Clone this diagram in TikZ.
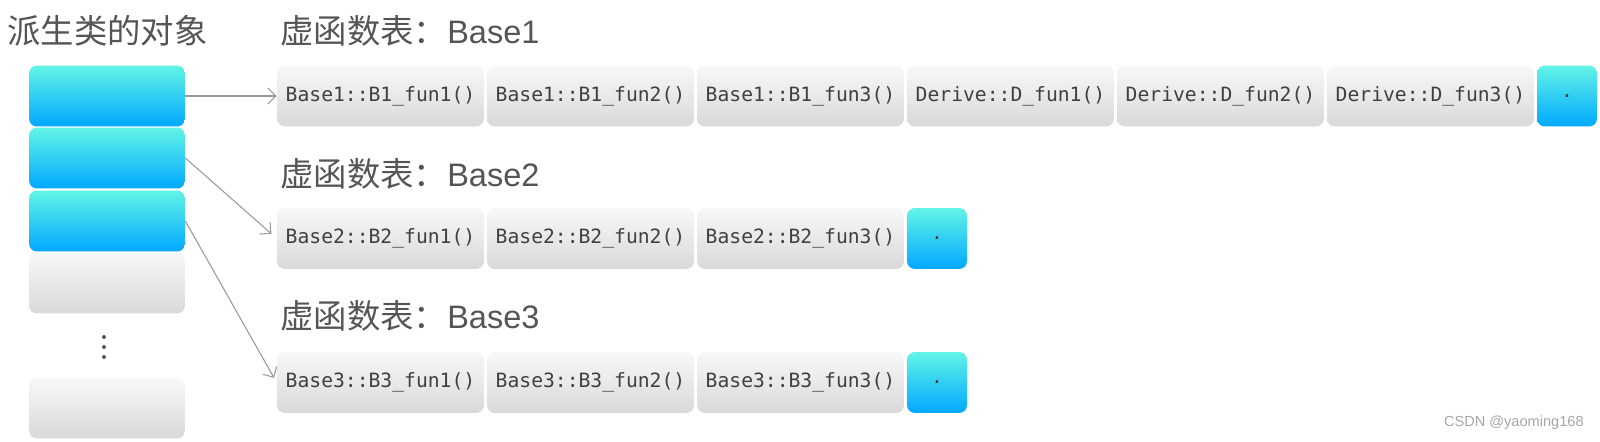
\documentclass[tikz,border=0pt]{standalone}
\usepackage{fontspec}
\setmonofont{DejaVu Sans Mono}
\setsansfont{Liberation Sans}
\newfontfamily\cjk{Noto Sans CJK SC}
\usetikzlibrary{arrows,arrows.meta,shapes,positioning}
\definecolor{cyanhaut}{HTML}{62F4E6}
\definecolor{bleubas}{HTML}{00A8FF}
\definecolor{grishaut}{HTML}{F8F8F8}
\definecolor{grisbas}{HTML}{D9D9D9}
\definecolor{texte}{HTML}{555555}
\definecolor{fleche}{HTML}{999999}

\begin{document}
\begin{tikzpicture}[x=0.02cm,y=-0.02cm,
  case/.style={rectangle,rounded corners=4.5pt,minimum width=3.12cm,minimum height=1.22cm,inner sep=0pt},
  pleine/.style={case,top color=cyanhaut,bottom color=bleubas},
  vide/.style={case,top color=grishaut,bottom color=grisbas},
  fct/.style={rectangle,rounded corners=4.5pt,minimum width=4.14cm,minimum height=1.22cm,inner sep=0pt,top color=grishaut,bottom color=grisbas,text=black!75,font=\ttfamily\fontsize{11.2}{13}\selectfont},
  fin/.style={fct,minimum width=1.2cm,top color=cyanhaut,bottom color=bleubas},
  titre/.style={anchor=west,inner sep=0pt,text=texte,font=\cjk\fontsize{19}{22}\selectfont},
  lien/.style={draw=fleche,line width=0.6pt,-{Straight Barb[length=4.5pt,width=9pt]}}]
\useasboundingbox (0,0) rectangle (1600,442);

% objet derive
\node (TD) at (7,31) [titre] {派生类的对象};
\node (D1) at (107,96) [pleine] {};
\node (D2) at (107,158) [pleine] {};
\node (D3) at (107,221) [pleine] {};
\node (D4) at (107,283) [vide] {};
\node (D5) at (107,408) [vide] {};
\fill[texte] (104,337) circle (2) (104,347) circle (2) (104,357) circle (2);

% table Base1
\node (T1) at (280,31) [titre] {虚函数表：{\sffamily\fontsize{18.5}{22}\selectfont Base1}};
\node (B1a) at (380.5,96) [fct] {Base1::B1\_fun1()};
\node (B1b) at (590.5,96) [fct] {Base1::B1\_fun2()};
\node (B1c) at (800.5,96) [fct] {Base1::B1\_fun3()};
\node (B1d) at (1010.5,96) [fct] {Derive::D\_fun1()};
\node (B1e) at (1220.5,96) [fct] {Derive::D\_fun2()};
\node (B1f) at (1430.5,96) [fct] {Derive::D\_fun3()};
\node (B1g) at (1567,96) [fin] {.};

% table Base2
\node (T2) at (280,174) [titre] {虚函数表：{\sffamily\fontsize{18.5}{22}\selectfont Base2}};
\node (B2a) at (380.5,238.5) [fct] {Base2::B2\_fun1()};
\node (B2b) at (590.5,238.5) [fct] {Base2::B2\_fun2()};
\node (B2c) at (800.5,238.5) [fct] {Base2::B2\_fun3()};
\node (B2d) at (937,238.5) [fin] {.};

% table Base3
\node (T3) at (280,316) [titre] {虚函数表：{\sffamily\fontsize{18.5}{22}\selectfont Base3}};
\node (B3a) at (380.5,382.5) [fct] {Base3::B3\_fun1()};
\node (B3b) at (590.5,382.5) [fct] {Base3::B3\_fun2()};
\node (B3c) at (800.5,382.5) [fct] {Base3::B3\_fun3()};
\node (B3d) at (937,382.5) [fin] {.};

\node (WM) at (1584,423) [anchor=east,inner sep=0pt,text=black!35,font=\sffamily\fontsize{8.3}{10}\selectfont] {CSDN @yaoming168};

% pointeurs vers les tables
\draw[lien] (D1.east) -- (B1a.west);
\draw[lien,shorten >=4pt] (D2.east) -- (B2a.west);
\draw[lien,shorten >=3pt] (D3.east) -- (B3a.west);
\end{tikzpicture}
\end{document}
